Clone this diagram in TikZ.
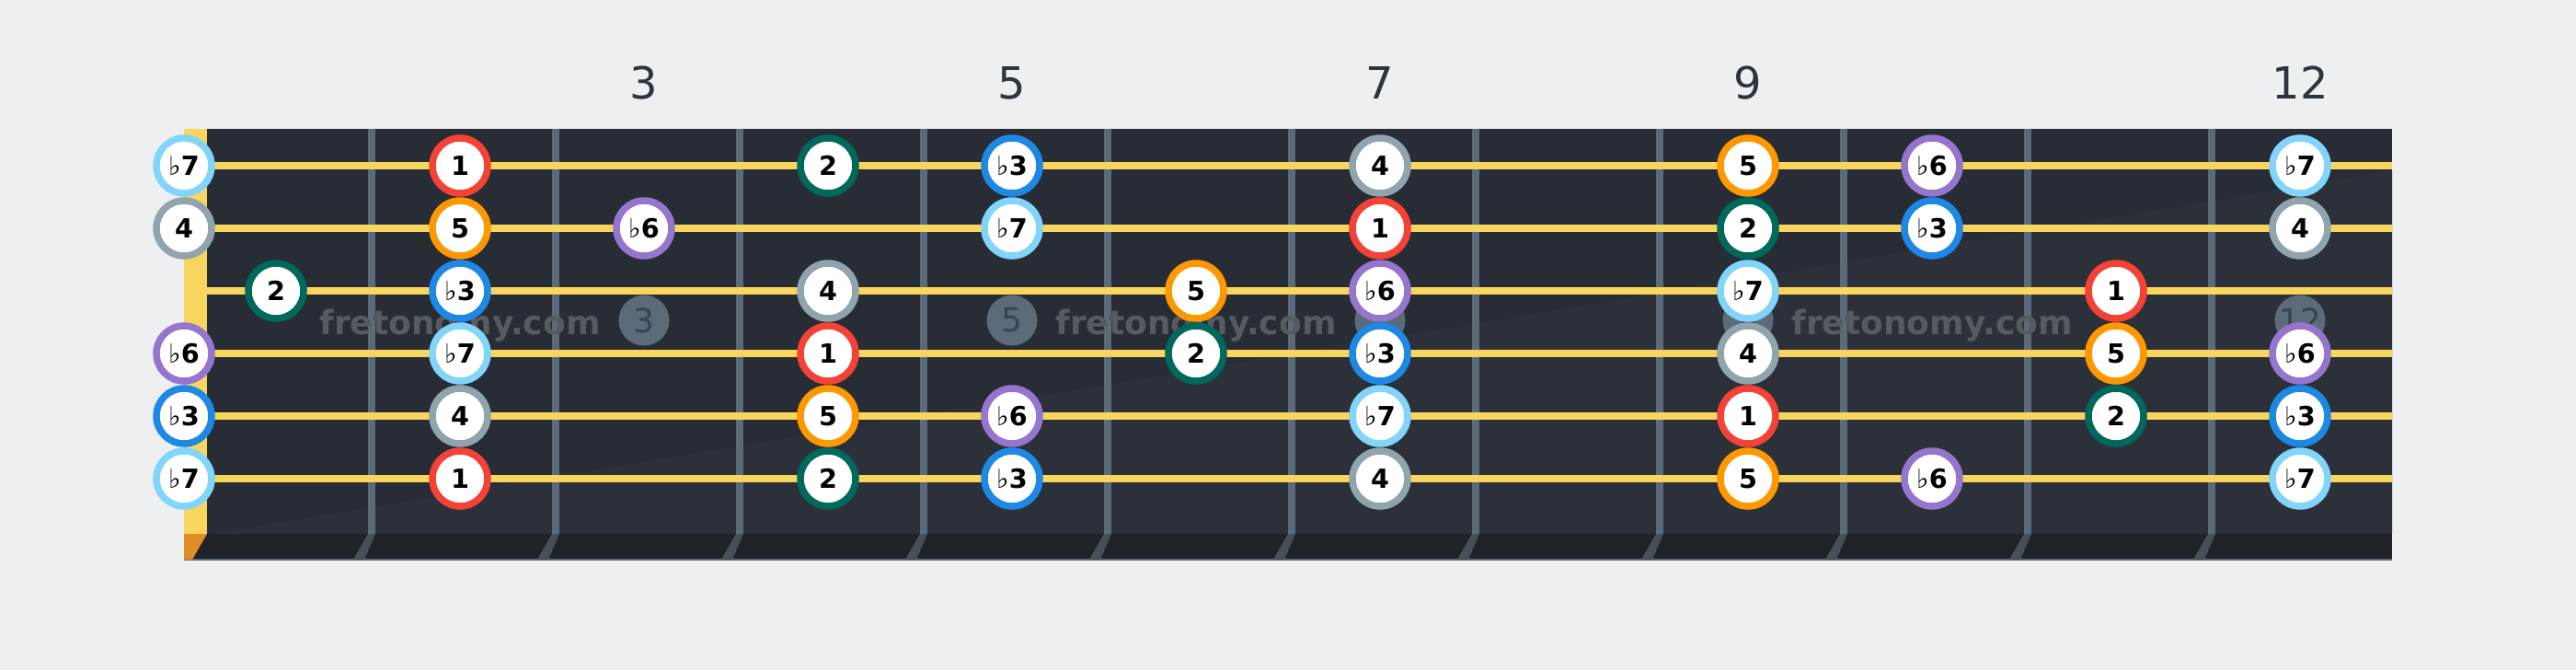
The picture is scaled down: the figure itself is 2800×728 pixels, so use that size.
\documentclass[tikz,border=0pt]{standalone}
\usepackage{fontspec}
\setmainfont{DejaVu Sans}
\definecolor{bg}{HTML}{EEEFF1}
\definecolor{board}{HTML}{282D35}
\definecolor{boardlit}{HTML}{2C3139}
\definecolor{edge}{HTML}{1F2328}
\definecolor{wire}{HTML}{5B6B79}
\definecolor{wireshade}{HTML}{474F59}
\definecolor{strg}{HTML}{F8D65E}
\definecolor{nutcorner}{HTML}{DE8C26}
\definecolor{inlaytxt}{HTML}{3A434D}
\definecolor{water}{HTML}{575A5F}
\definecolor{label}{HTML}{2B3540}
% scale degrees
\definecolor{deg1}{HTML}{F44336}
\definecolor{deg2}{HTML}{00695C}
\definecolor{deg3}{HTML}{1E88E5}
\definecolor{deg4}{HTML}{90A4AE}
\definecolor{deg5}{HTML}{FF9800}
\definecolor{deg6}{HTML}{9575CD}
\definecolor{deg7}{HTML}{81D4FA}
\newcommand{\fl}{{\mdseries ♭}}
\begin{document}
\begin{tikzpicture}[x=0.3pt,y=-0.3pt,
    notedot/.style={circle,draw=deg#1,fill=white,line width=2.25pt,
      minimum size=18pt,inner sep=0pt,font=\fontsize{8.6}{10}\selectfont\bfseries},
    inlay/.style={circle,fill=wire,minimum size=16.5pt,inner sep=0pt,
      text=inlaytxt,font=\fontsize{10.8}{12}\selectfont},
    fretno/.style={text=label,font=\fontsize{14.4}{16}\selectfont},
    watermark/.style={text=water,anchor=base,font=\fontsize{10.8}{12}\selectfont\bfseries}]
	% background
	\fill[bg] (0,0) rectangle (2800,728);
	% fretboard
	\fill[board] (225,140) rectangle (2600,580);
	\fill[boardlit] (225,580) -- (2600,185) -- (2600,580) -- cycle;
	\fill[edge] (200,580) rectangle (2600,608);
	\draw[wire,line width=0.6pt] (200,608) -- (2600,608);
	\fill[nutcorner] (200,580) -- (225,580) -- (209,608) -- (200,608) -- cycle;
	% frets
	\foreach \k in {1,...,11}{
		\pgfmathsetmacro\wx{204+200*\k}
		\fill[wire] (\wx-4,140) rectangle (\wx+4,580);
		\fill[wireshade] (\wx-4,580) -- (\wx+4,580) -- (\wx-8,608) -- (\wx-20,608) -- cycle;
	}
	% inlays
	\foreach \f in {3,5,7,9,12}
		\node[inlay] (inlay\f) at (100+200*\f,348) {\f};
	\foreach \i in {0,1,2}
		\node[watermark] (wm\i) at (500+800*\i,363) {fretonomy.com};
	% strings
	\foreach \s in {1,...,6}
		\draw[strg,line width=2.4pt] (225,112+68*\s) -- (2600,112+68*\s);
	% nut
	\fill[strg] (200,140) rectangle (225,580);
	% notes: string/fret/degree
	\foreach \s/\f/\d in {
		1/0/7,1/2/1,1/4/2,1/5/3,1/7/4,1/9/5,1/10/6,1/12/7,
		2/0/4,2/2/5,2/3/6,2/5/7,2/7/1,2/9/2,2/10/3,2/12/4,
		3/1/2,3/2/3,3/4/4,3/6/5,3/7/6,3/9/7,3/11/1,
		4/0/6,4/2/7,4/4/1,4/6/2,4/7/3,4/9/4,4/11/5,4/12/6,
		5/0/3,5/2/4,5/4/5,5/5/6,5/7/7,5/9/1,5/11/2,5/12/3,
		6/0/7,6/2/1,6/4/2,6/5/3,6/7/4,6/9/5,6/10/6,6/12/7}{
		\pgfmathsetmacro\nx{\f==0 ? 200 : 100+200*\f}
		\node[notedot=\d] (n\s-\f) at (\nx,112+68*\s)
			{\ifcase\d\or1\or2\or\fl3\or4\or5\or\fl6\or\fl7\fi};
	}
	% fret numbers
	\foreach \f in {3,5,7,9,12}
		\node[fretno] (lbl\f) at (100+200*\f,90) {\f};
\end{tikzpicture}
\end{document}
